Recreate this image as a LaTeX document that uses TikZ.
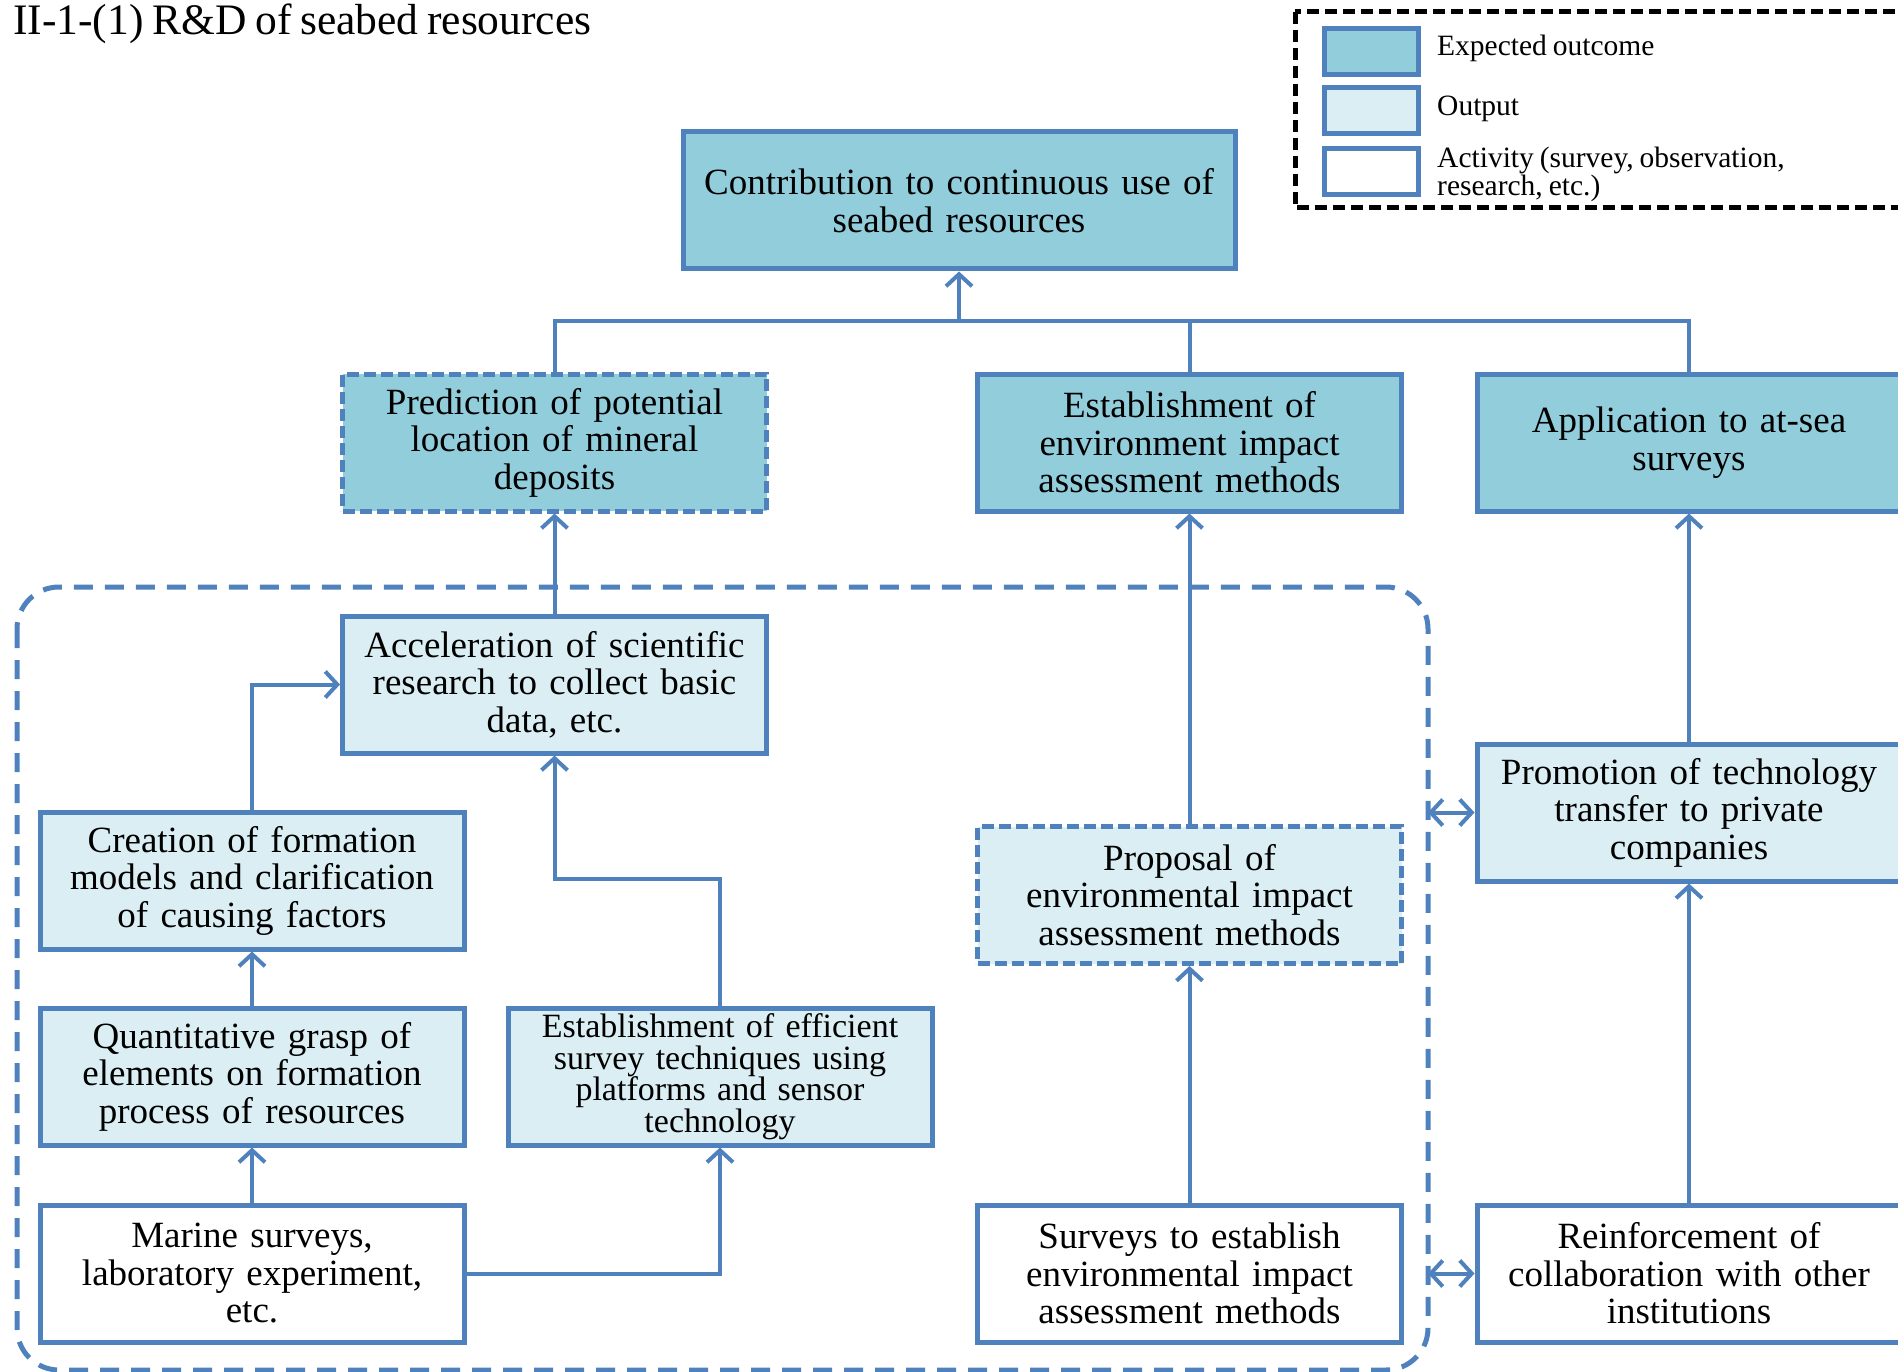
\documentclass[tikz,border=0pt]{standalone}
\usepackage{fontspec}
\setmainfont[WordSpace=0.8]{Liberation Serif}
\usetikzlibrary{arrows.meta}
\definecolor{bord}{HTML}{4F81BD}
\definecolor{dark}{HTML}{92CDDC}
\definecolor{light}{HTML}{DAEEF3}
\begin{document}
\begin{tikzpicture}[x=1pt,y=-1pt,
 box/.style={draw=bord,line width=5pt,minimum width=424pt,minimum height=137pt,inner sep=0pt,text width=420pt,align=center,font=\fontsize{37}{37.5}\selectfont},
 outcome/.style={box,fill=dark},
 outp/.style={box,fill=light},
 act/.style={box,fill=white},
 dsh/.style={dash pattern=on 12pt off 5pt},
 conn/.style={draw=bord,line width=4pt},
 arr/.style={conn,-{Straight Barb[length=12pt,width=26pt]}},
 darr/.style={conn,{Straight Barb[length=12pt,width=26pt]}-{Straight Barb[length=12pt,width=26pt]}},
 swatch/.style={draw=bord,line width=5pt,minimum width=94pt,minimum height=46pt,inner sep=0pt},
 legtext/.style={anchor=west,inner sep=0pt,align=left,font=\fontsize{29.5}{26.6}\selectfont},
]
\useasboundingbox (0,0) rectangle (1898,1372);

% big dashed region
\draw[bord, line width=5pt, dash pattern=on 19pt off 12pt, rounded corners=42pt] (17,587) rectangle (1428,1370);

% title
\node[anchor=west, inner sep=0pt, font=\fontsize{43.5}{45}\selectfont] (title) at (13,24) {II-1-(1) R\&D of seabed resources};

% legend
\draw[black, line width=5pt, dash pattern=on 12pt off 6pt] (1295,12) rectangle (1912,208);
\node[swatch, fill=dark] (l1) at (1371,51.5) {};
\node[swatch, fill=light] (l2) at (1371,111) {};
\node[swatch, fill=white] (l3) at (1371,172) {};
\node[legtext] (t1) at (1437,48) {Expected outcome};
\node[legtext] (t2) at (1437,109) {Output};
\node[legtext] (t3) at (1437,174) {Activity (survey, observation,\\research, etc.)};

% nodes
\node[outcome, minimum width=552pt, text width=540pt] (top) at (959,200.5) {Contribution to continuous use of\\seabed resources};
\node[outcome, dsh] (pred) at (554.5,442.5) {Prediction of potential\\location of mineral\\deposits};
\node[outcome] (est) at (1189.5,442.5) {Establishment of\\environment impact\\assessment methods};
\node[outcome] (app) at (1689,442.5) {Application to at-sea\\surveys};
\node[outp] (acc) at (554.5,684.5) {Acceleration of scientific\\research to collect basic\\data, etc.};
\node[outp] (cre) at (252,880.5) {Creation of formation\\models and clarification\\of causing factors};
\node[outp] (qua) at (252,1076.5) {Quantitative grasp of\\elements on formation\\process of resources};
\node[outp, font=\fontsize{34}{31.5}\selectfont] (eff) at (720,1076.5) {Establishment of efficient\\survey techniques using\\platforms and sensor\\technology};
\node[act] (mar) at (252,1273.5) {Marine surveys,\\laboratory experiment,\\etc.};
\node[outp, dsh] (pro) at (1189.5,895) {Proposal of\\environmental impact\\assessment methods};
\node[act] (sur) at (1189.5,1273.5) {Surveys to establish\\environmental impact\\assessment methods};
\node[outp] (prm) at (1689,812.5) {Promotion of technology\\transfer to private\\companies};
\node[act] (rei) at (1689,1273.5) {Reinforcement of\\collaboration with other\\institutions};

% connectors
\coordinate (jn) at (959,321);
\draw[arr] (jn) -- (top.south);
\draw[conn] (pred.north) |- (app.north |- jn) -- (app.north);
\draw[conn] (est.north) -- (est.north |- jn);
\draw[arr] (acc.north) -- (pred.south);
\draw[arr] (cre.north) |- (acc.west);
\draw[arr] (qua.north) -- (cre.south);
\draw[arr] (mar.north) -- (qua.south);
\draw[arr] (mar.east) -| (eff.south);
\draw[arr] (eff.north) -- ++(0,-127) -| (acc.south);
\draw[arr] (pro.north) -- (est.south);
\draw[arr] (sur.north) -- (pro.south);
\draw[arr] (prm.north) -- (app.south);
\draw[arr] (rei.north) -- (prm.south);
\coordinate (d1) at (1428,812.5);
\coordinate (d2) at (1428,1273.5);
\draw[darr] (d1) -- (prm.west);
\draw[darr] (d2) -- (rei.west);
\end{tikzpicture}
\end{document}
